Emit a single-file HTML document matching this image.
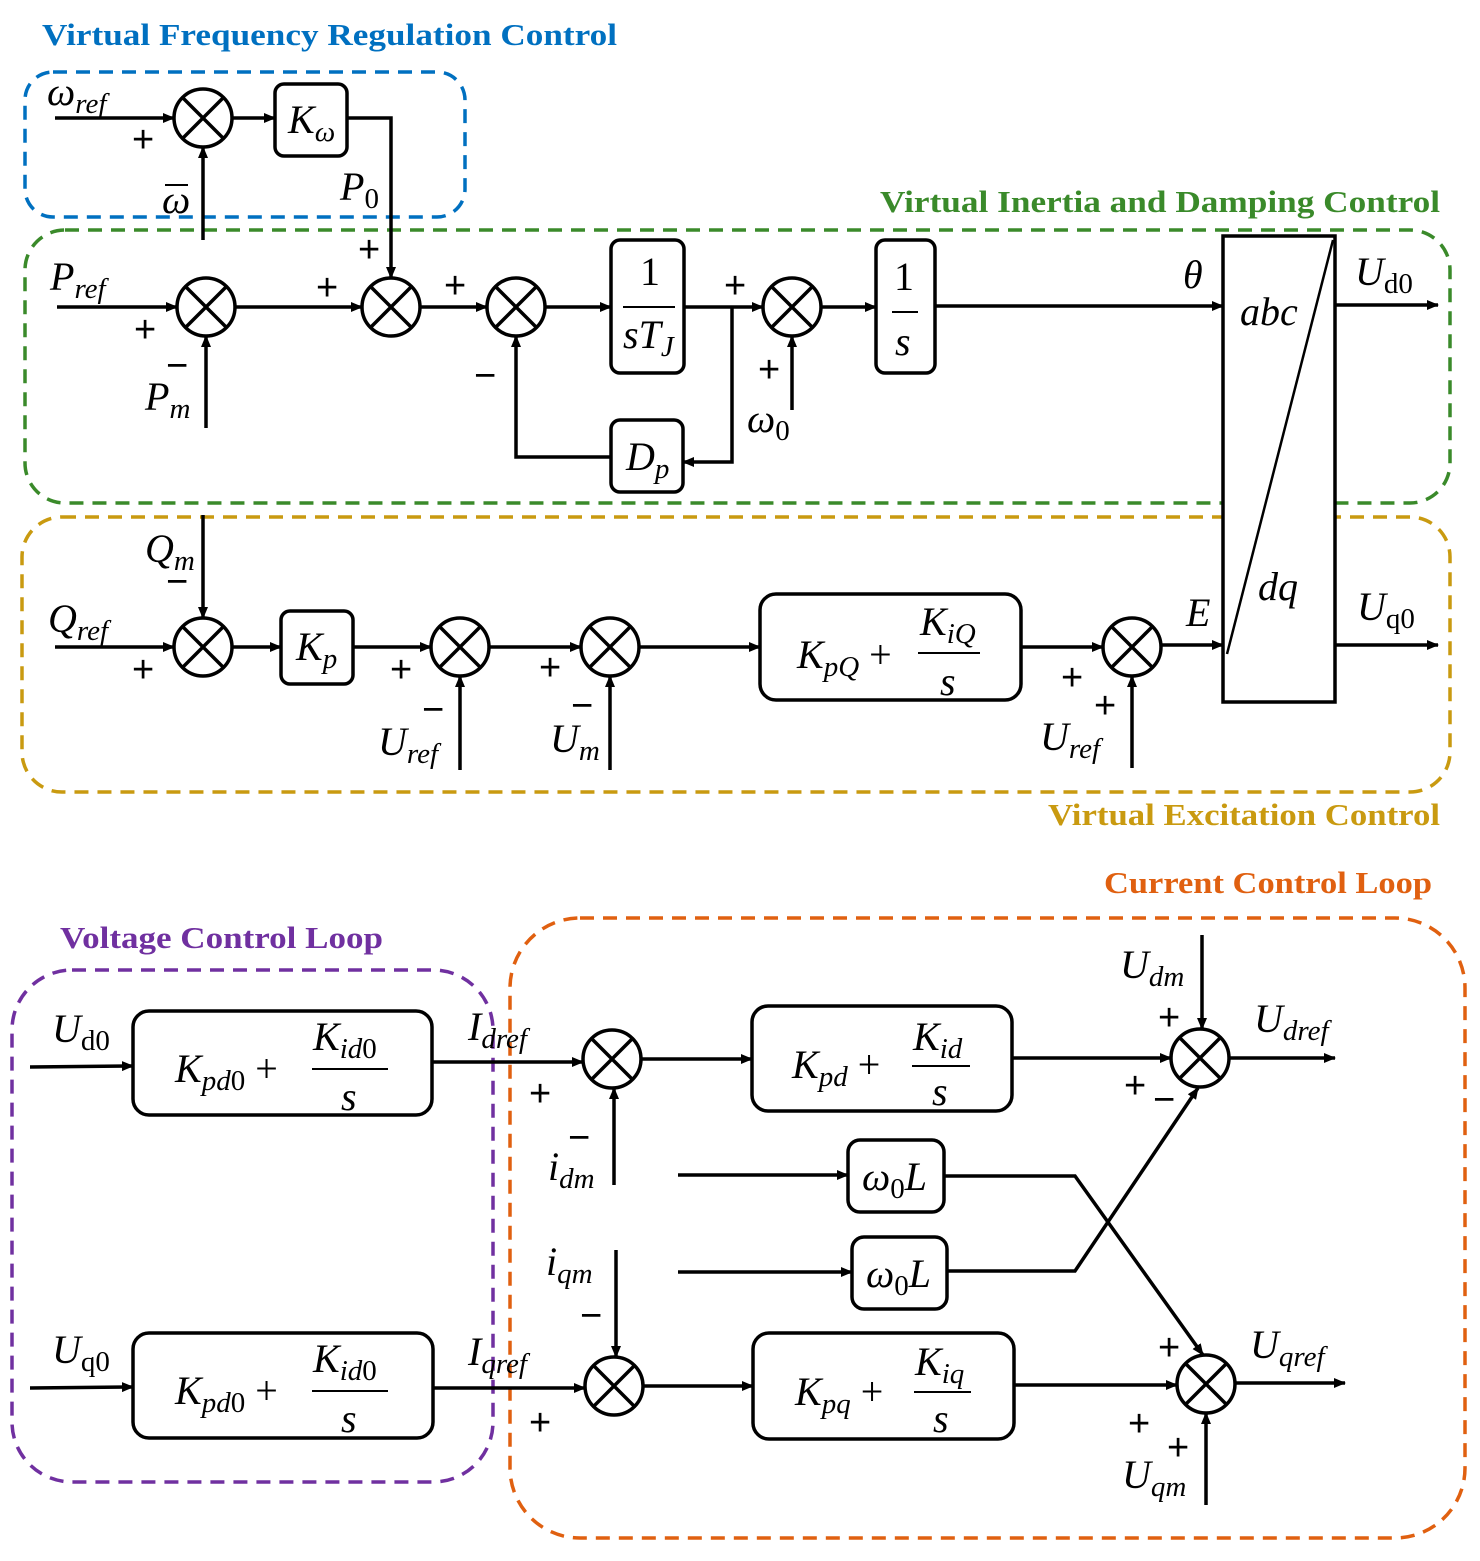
<!DOCTYPE html>
<html><head><meta charset="utf-8"><style>
body{margin:0;background:#fff}
svg{display:block}
.t{font-family:"Liberation Serif","DejaVu Serif",serif;font-style:italic;font-size:40px;fill:#000}
.u{font-style:normal}
.s{font-size:29px}
.sg{font-family:"Liberation Sans","DejaVu Sans",sans-serif;font-size:38px;fill:#000}
.h{font-family:"Liberation Serif","DejaVu Serif",serif;font-weight:bold;font-size:31px}
.l{stroke:#000;stroke-width:3.5;fill:none}
.b{stroke:#000;stroke-width:3.5;fill:#fff}
</style></head><body>
<svg width="1480" height="1561" viewBox="0 0 1480 1561" xmlns="http://www.w3.org/2000/svg">
<defs>
<marker id="a" markerWidth="12" markerHeight="10" refX="11" refY="5" orient="auto" markerUnits="userSpaceOnUse"><path d="M0,0 L12,5 L0,10 z" fill="#000"/></marker>
<g id="sj"><circle r="29" class="b"/><path d="M-20.5,-20.5 L20.5,20.5 M-20.5,20.5 L20.5,-20.5" class="l"/></g>
</defs>

<!-- titles -->
<text x="42" y="45" class="h" fill="#0070c0" textLength="575" lengthAdjust="spacingAndGlyphs">Virtual Frequency Regulation Control</text>
<text x="880" y="212" class="h" fill="#3a8a2a" textLength="560" lengthAdjust="spacingAndGlyphs">Virtual Inertia and Damping Control</text>
<text x="1048" y="825" class="h" fill="#c99a10" textLength="392" lengthAdjust="spacingAndGlyphs">Virtual Excitation Control</text>
<text x="1104" y="893" class="h" fill="#e06010" textLength="328" lengthAdjust="spacingAndGlyphs">Current Control Loop</text>
<text x="60" y="948" class="h" fill="#7030a0" textLength="323" lengthAdjust="spacingAndGlyphs">Voltage Control Loop</text>

<!-- dashed boxes -->
<rect x="25" y="72" width="440" height="145" rx="28" fill="none" stroke="#0070c0" stroke-width="3.5" stroke-dasharray="14,9"/>
<rect x="25" y="230" width="1425" height="273" rx="40" fill="none" stroke="#3a8a2a" stroke-width="3.5" stroke-dasharray="14,9"/>
<rect x="22" y="517" width="1428" height="275" rx="40" fill="none" stroke="#c99a10" stroke-width="3.5" stroke-dasharray="14,9"/>
<rect x="510" y="918" width="955" height="620" rx="70" fill="none" stroke="#e06010" stroke-width="3.5" stroke-dasharray="14,9"/>
<rect x="12" y="970" width="481" height="512" rx="60" fill="none" stroke="#7030a0" stroke-width="3.5" stroke-dasharray="14,9"/>

<g class="l" marker-end="url(#a)">
<path d="M55,118 H174"/><path d="M232,118 H275"/><path d="M347,118 H391 V278"/>
<path d="M203,240 V147"/><path d="M57,307 H177"/><path d="M206,428 V336"/>
<path d="M235,307 H362"/><path d="M420,307 H487"/><path d="M545,307 H611"/>
<path d="M684,307 H763"/><path d="M732,307 V462 H683"/><path d="M611,457 H516 V336"/>
<path d="M792,410 V336"/><path d="M821,307 H876"/><path d="M935,306 H1223"/>
<path d="M1335,305 H1438"/><path d="M203,515 V618"/><path d="M55,647 H174"/>
<path d="M232,647 H281"/><path d="M353,647 H431"/><path d="M489,647 H581"/>
<path d="M639,647 H760"/><path d="M1021,647 H1103"/><path d="M1161,645 H1223"/>
<path d="M460,770 V676"/><path d="M610,770 V676"/><path d="M1132,768 V676"/>
<path d="M1335,645 H1438"/>
<path d="M30,1067 L133,1066"/><path d="M432,1062 H583"/><path d="M614,1185 V1088"/>
<path d="M641,1059 H752"/><path d="M1012,1058 H1171"/><path d="M1202,935 V1029"/>
<path d="M1229,1058 H1335"/><path d="M678,1175 H848"/><path d="M944,1176 H1075 L1203,1355"/>
<path d="M678,1272 H852"/><path d="M947,1271 H1075 L1198,1088"/><path d="M616,1250 V1357"/>
<path d="M30,1388 L133,1387"/><path d="M433,1388 H585"/><path d="M643,1386 H753"/>
<path d="M1014,1385 H1177"/><path d="M1206,1505 V1413"/><path d="M1235,1383 H1345"/>
</g>

<use href="#sj" x="203" y="118"/><use href="#sj" x="206" y="307"/><use href="#sj" x="391" y="307"/>
<use href="#sj" x="516" y="307"/><use href="#sj" x="792" y="307"/><use href="#sj" x="203" y="647"/>
<use href="#sj" x="460" y="647"/><use href="#sj" x="610" y="647"/><use href="#sj" x="1132" y="647"/>
<use href="#sj" x="612" y="1059"/><use href="#sj" x="1200" y="1058"/><use href="#sj" x="614" y="1386"/>
<use href="#sj" x="1206" y="1384"/>

<rect x="275" y="84" width="72" height="72" rx="9" class="b"/>
<rect x="611" y="240" width="73" height="133" rx="9" class="b"/>
<rect x="876" y="240" width="59" height="133" rx="9" class="b"/>
<rect x="611" y="420" width="72" height="72" rx="9" class="b"/>
<rect x="1223" y="236" width="112" height="466" class="b"/>
<path d="M1333,240 L1227,654" stroke="#000" stroke-width="2.5"/>
<rect x="281" y="611" width="72" height="73" rx="9" class="b"/>
<rect x="760" y="594" width="261" height="106" rx="16" class="b"/>
<rect x="133" y="1011" width="299" height="104" rx="16" class="b"/>
<rect x="133" y="1333" width="300" height="105" rx="16" class="b"/>
<rect x="752" y="1006" width="260" height="105" rx="16" class="b"/>
<rect x="848" y="1140" width="96" height="72" rx="12" class="b"/>
<rect x="852" y="1237" width="95" height="72" rx="12" class="b"/>
<rect x="753" y="1333" width="261" height="106" rx="16" class="b"/>

<g stroke="#000" stroke-width="2">
<path d="M623,307 H675"/><path d="M892,312 H918"/><path d="M918,653 H980"/>
<path d="M312,1069 H388"/><path d="M312,1391 H388"/><path d="M912,1066 H970"/><path d="M914,1392 H971"/>
<path d="M165,185 H188"/>
</g>

<text class="t" x="47" y="105">ω<tspan class="s" dy="8">ref</tspan></text>
<text class="t" x="288" y="133">K<tspan class="s" dy="8">ω</tspan></text>
<text class="t" x="162" y="213">ω</text>
<text class="t" x="340" y="200">P<tspan class="s u" dy="8">0</tspan></text>
<text class="t" x="50" y="290">P<tspan class="s" dy="8">ref</tspan></text>
<text class="t" x="145" y="410">P<tspan class="s" dy="8">m</tspan></text>
<text class="t u" x="640" y="285">1</text>
<text class="t" x="623" y="348">sT<tspan class="s" dy="8">J</tspan></text>
<text class="t u" x="894" y="290">1</text>
<text class="t" x="895" y="355">s</text>
<text class="t" x="626" y="470">D<tspan class="s" dy="8">p</tspan></text>
<text class="t" x="747" y="432">ω<tspan class="s u" dy="8">0</tspan></text>
<text class="t" x="1183" y="288">θ</text>
<text class="t" x="1240" y="325">abc</text>
<text class="t" x="1258" y="600">dq</text>
<text class="t" x="1355" y="285">U<tspan class="s u" dy="8">d0</tspan></text>
<text class="t" x="1357" y="620">U<tspan class="s u" dy="8">q0</tspan></text>
<text class="t" x="1186" y="626">E</text>
<text class="t" x="145" y="562">Q<tspan class="s" dy="8">m</tspan></text>
<text class="t" x="48" y="632">Q<tspan class="s" dy="8">ref</tspan></text>
<text class="t" x="296" y="660">K<tspan class="s" dy="8">p</tspan></text>
<text class="t" x="378" y="755">U<tspan class="s" dy="8">ref</tspan></text>
<text class="t" x="550" y="752">U<tspan class="s" dy="8">m</tspan></text>
<text class="t" x="797" y="668">K<tspan class="s" dy="8">pQ</tspan><tspan class="u" dy="-8"> +</tspan></text>
<text class="t" x="920" y="635">K<tspan class="s" dy="8">iQ</tspan></text>
<text class="t" x="940" y="695">s</text>
<text class="t" x="1040" y="750">U<tspan class="s" dy="8">ref</tspan></text>

<text class="t" x="52" y="1042">U<tspan class="s u" dy="8">d0</tspan></text>
<text class="t" x="175" y="1082">K<tspan class="s" dy="8">pd<tspan class="u">0</tspan></tspan><tspan class="u" dy="-8"> +</tspan></text>
<text class="t" x="313" y="1050">K<tspan class="s" dy="8">id<tspan class="u">0</tspan></tspan></text>
<text class="t" x="341" y="1110">s</text>
<text class="t" x="468" y="1040">I<tspan class="s" dy="8">dref</tspan></text>
<text class="t" x="548" y="1180">i<tspan class="s" dy="8">dm</tspan></text>
<text class="t" x="792" y="1078">K<tspan class="s" dy="8">pd</tspan><tspan class="u" dy="-8"> +</tspan></text>
<text class="t" x="913" y="1050">K<tspan class="s" dy="8">id</tspan></text>
<text class="t" x="932" y="1105">s</text>
<text class="t" x="1120" y="978">U<tspan class="s" dy="8">dm</tspan></text>
<text class="t" x="1254" y="1032">U<tspan class="s" dy="8">dref</tspan></text>
<text class="t" x="862" y="1190">ω<tspan class="s u" dy="8">0</tspan><tspan dy="-8">L</tspan></text>
<text class="t" x="866" y="1287">ω<tspan class="s u" dy="8">0</tspan><tspan dy="-8">L</tspan></text>
<text class="t" x="546" y="1275">i<tspan class="s" dy="8">qm</tspan></text>
<text class="t" x="52" y="1363">U<tspan class="s u" dy="8">q0</tspan></text>
<text class="t" x="175" y="1404">K<tspan class="s" dy="8">pd<tspan class="u">0</tspan></tspan><tspan class="u" dy="-8"> +</tspan></text>
<text class="t" x="313" y="1372">K<tspan class="s" dy="8">id<tspan class="u">0</tspan></tspan></text>
<text class="t" x="341" y="1432">s</text>
<text class="t" x="468" y="1365">I<tspan class="s" dy="8">qref</tspan></text>
<text class="t" x="795" y="1405">K<tspan class="s" dy="8">pq</tspan><tspan class="u" dy="-8"> +</tspan></text>
<text class="t" x="915" y="1375">K<tspan class="s" dy="8">iq</tspan></text>
<text class="t" x="933" y="1432">s</text>
<text class="t" x="1250" y="1358">U<tspan class="s" dy="8">qref</tspan></text>
<text class="t" x="1122" y="1488">U<tspan class="s" dy="8">qm</tspan></text>

<g class="sg">
<text x="132" y="152">+</text>
<text x="358" y="262">+</text>
<text x="134" y="342">+</text><text x="166" y="378">−</text>
<text x="316" y="300">+</text><text x="444" y="298">+</text><text x="474" y="388">−</text>
<text x="724" y="298">+</text><text x="758" y="382">+</text>
<text x="166" y="594">−</text><text x="132" y="682">+</text>
<text x="390" y="682">+</text><text x="422" y="722">−</text>
<text x="539" y="680">+</text><text x="571" y="718">−</text>
<text x="1061" y="690">+</text><text x="1094" y="718">+</text>
<text x="529" y="1106">+</text><text x="568" y="1150">−</text>
<text x="1158" y="1030">+</text><text x="1124" y="1098">+</text><text x="1153" y="1112">−</text>
<text x="580" y="1328">−</text><text x="529" y="1435">+</text>
<text x="1158" y="1360">+</text><text x="1128" y="1436">+</text><text x="1167" y="1460">+</text>
</g>
</svg>
</body></html>
